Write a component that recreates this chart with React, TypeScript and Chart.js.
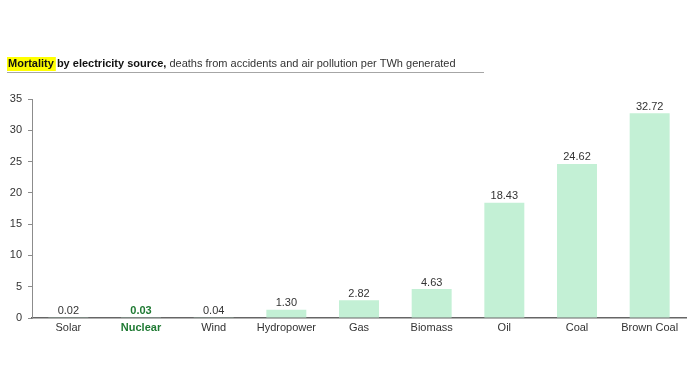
import React, { useEffect, useRef } from "react";
import { Chart, registerables } from "chart.js";

Chart.register(...registerables);

const categories = ["Solar", "Nuclear", "Wind", "Hydropower", "Gas", "Biomass", "Oil", "Coal", "Brown Coal"];
const deaths = [0.02, 0.03, 0.04, 1.3, 2.82, 4.63, 18.43, 24.62, 32.72];
const highlightIndex = 1;
const titleHighlight = "Mortality";
const titleBold = " by electricity source,";
const titleRest = " deaths from accidents and air pollution per TWh generated";

const FONT = "'Liberation Sans', Arial, sans-serif";
const GREEN = "#1f7a33";

export default function App() {
  const ref = useRef<HTMLCanvasElement | null>(null);
  useEffect(() => {
    document.body.style.margin = "0";
    const canvas = ref.current!;
    const titlePlugin = {
      id: "titlePlugin",
      afterDraw(chart: any) {
        const ctx = chart.ctx;
        ctx.save();
        const x0 = 8;
        const y = 67;
        ctx.textBaseline = "alphabetic";
        ctx.font = `bold 11px ${FONT}`;
        const w1 = ctx.measureText(titleHighlight).width;
        ctx.fillStyle = "#ffff00";
        ctx.fillRect(x0 - 1, 57, w1 + 3, 14);
        ctx.fillStyle = "#111";
        ctx.fillText(titleHighlight, x0, y);
        const w2 = ctx.measureText(titleBold).width;
        ctx.fillText(titleBold, x0 + w1, y);
        ctx.font = `11px ${FONT}`;
        ctx.fillStyle = "#333";
        ctx.fillText(titleRest, x0 + w1 + w2, y);
        ctx.strokeStyle = "#a6a6a6";
        ctx.lineWidth = 1;
        ctx.beginPath();
        ctx.moveTo(7, 72.5);
        ctx.lineTo(484, 72.5);
        ctx.stroke();
        ctx.restore();
      },
    };
    const valuePlugin = {
      id: "valuePlugin",
      afterDatasetsDraw(chart: any) {
        const ctx = chart.ctx;
        const meta = chart.getDatasetMeta(0);
        ctx.save();
        ctx.textAlign = "center";
        ctx.textBaseline = "bottom";
        meta.data.forEach((bar: any, i: number) => {
          const v = chart.data.datasets[0].data[i] as number;
          if (i === highlightIndex) {
            ctx.font = `bold 11px ${FONT}`;
            ctx.fillStyle = GREEN;
          } else {
            ctx.font = `11px ${FONT}`;
            ctx.fillStyle = "#333";
          }
          ctx.fillText(v.toFixed(2), bar.x, bar.y - 1);
        });
        ctx.restore();
      },
    };
    const chart = new Chart(canvas, {
      type: "bar",
      data: {
        labels: categories,
        datasets: [
          {
            data: deaths,
            backgroundColor: "#c3f0d5",
            borderWidth: 0,
            categoryPercentage: 1,
            barPercentage: 0.55,
          },
        ],
      },
      options: {
        animation: false,
        responsive: false,
        maintainAspectRatio: false,
        layout: { padding: { top: 99, right: 10, bottom: 42, left: 0 } },
        plugins: {
          legend: { display: false },
          tooltip: { enabled: false },
          title: { display: false },
        },
        scales: {
          x: {
            grid: { display: false, drawTicks: false, tickLength: 0 },
            border: { display: true, color: "#666", width: 1.5 },
            ticks: {
              padding: 3,
              color: (c: any) => (c.index === highlightIndex ? GREEN : "#333"),
              font: (c: any) =>
                c.index === highlightIndex
                  ? { family: FONT, size: 11, weight: "bold" }
                  : { family: FONT, size: 11 },
              maxRotation: 0,
              autoSkip: false,
            },
            afterFit: (s: any) => {
              s.height = 25;
            },
          },
          y: {
            min: 0,
            max: 35,
            ticks: {
              stepSize: 5,
              padding: 6,
              color: "#333",
              font: { family: FONT, size: 11 },
            },
            grid: {
              drawOnChartArea: false,
              drawTicks: true,
              tickLength: 4,
              color: "#8c8c8c",
            },
            border: { display: true, color: "#8c8c8c", width: 1 },
            afterFit: (s: any) => {
              s.width = 32;
            },
          },
        },
      },
      plugins: [titlePlugin, valuePlugin],
    });
    return () => chart.destroy();
  }, []);
  return (
    <div style={{ position: "relative", width: 696, height: 385, background: "#fff" }}>
      <canvas ref={ref} width={696} height={385} style={{ display: "block" }} />
    </div>
  );
}
